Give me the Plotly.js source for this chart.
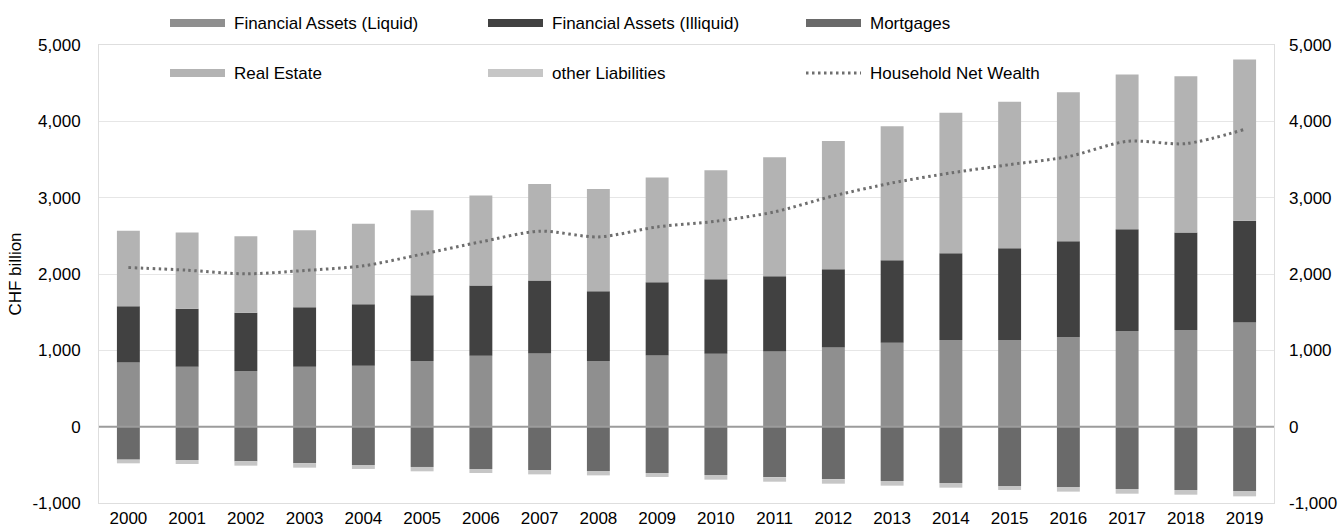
<!DOCTYPE html>
<html>
<head>
<meta charset="utf-8">
<script src="https://cdn.plot.ly/plotly-3.0.1.min.js"></script>
<style>html,body{margin:0;padding:0;background:#fff;}#chart{width:1341px;height:531px;}</style>
</head>
<body>
<div id="chart"></div>
<script>
const years = ["2000","2001","2002","2003","2004","2005","2006","2007","2008","2009","2010","2011","2012","2013","2014","2015","2016","2017","2018","2019"];
const liquid = [842,785,728,785,798,859,929,960,859,933,955,986,1038,1099,1134,1134,1173,1252,1265,1365];
const illiquid = [737,759,764,781,807,864,921,955,916,960,977,986,1025,1082,1139,1204,1257,1335,1278,1331];
const mortgages = [-432,-437,-454,-480,-502,-528,-555,-568,-581,-607,-633,-664,-690,-712,-738,-777,-790,-817,-830,-843];
const realEstate = [986,999,1003,1008,1052,1112,1177,1265,1339,1370,1427,1557,1680,1754,1840,1919,1950,2028,2046,2115];
const otherLiab = [-48,-52,-57,-57,-52,-57,-52,-57,-57,-52,-61,-57,-57,-61,-61,-52,-61,-61,-61,-70];
const netWealth = [2085,2050,2002,2046,2107,2260,2421,2561,2486,2617,2691,2814,3023,3193,3324,3433,3538,3738,3708,3895];
const tickVals = [-1000,0,1000,2000,3000,4000,5000];
const tickText = ["-1,000","0","1,000","2,000","3,000","4,000","5,000"];
const seriesNames = ["Financial Assets (Liquid)","Financial Assets (Illiquid)","Mortgages","Real Estate","other Liabilities","Household Net Wealth"];
const colors = ["#8f8f8f","#414141","#6a6a6a","#b3b3b3","#c6c6c6","#6e6e6e"];

const W = 1341, H = 531, L = 99, R = 1274, T = 45, B = 503;
const px = x => (x - L) / (R - L);
const py = y => (B - y) / (B - T);
const FONT = "Liberation Sans, Arial, sans-serif";

const barVals = [liquid, illiquid, mortgages, realEstate, otherLiab];
const traces = barVals.map((v, i) => ({
  type: "bar", x: years, y: v, name: seriesNames[i],
  marker: {color: colors[i], line: {width: 0}}, showlegend: false, hoverinfo: "skip"
}));
traces.push({
  type: "scatter", mode: "lines", x: years, y: netWealth, name: seriesNames[5], yaxis: "y2",
  line: {color: colors[5], width: 3, dash: "2.5px,3.5px", shape: "spline", smoothing: 0.8},
  showlegend: false, hoverinfo: "skip"
});

const shapes = [];
const annotations = [];
const colX = [170, 488, 806];
const rowY = [23, 73];
seriesNames.forEach((name, i) => {
  const c = i % 3, r = Math.floor(i / 3);
  const x0 = colX[c], x1 = colX[c] + 55, yc = rowY[r];
  if (i < 5) {
    shapes.push({type: "rect", xref: "paper", yref: "paper", x0: px(x0), x1: px(x1), y0: py(yc + 4), y1: py(yc - 4),
      fillcolor: colors[i], line: {width: 0}, layer: "above"});
  } else {
    shapes.push({type: "line", xref: "paper", yref: "paper", x0: px(x0), x1: px(x1), y0: py(yc), y1: py(yc),
      line: {color: colors[i], width: 3, dash: "2.5px,3.5px"}, layer: "above"});
  }
  annotations.push({xref: "paper", yref: "paper", x: px(x1 + 7), y: py(yc), xanchor: "left", yanchor: "middle",
    text: name, showarrow: false, font: {family: FONT, size: 17, color: "#000"}});
});
shapes.push({type: "line", xref: "paper", yref: "y", x0: 0, x1: 1, y0: 0, y1: 0,
  line: {color: "#9c9c9c", width: 2}, layer: "above"});

const layout = {
  width: W, height: H,
  margin: {l: L, r: W - R, t: T, b: H - B, pad: 0},
  paper_bgcolor: "#fff", plot_bgcolor: "#fff",
  barmode: "relative", bargap: 0.61,
  font: {family: FONT, size: 17, color: "#000"},
  xaxis: {type: "category", showgrid: false, zeroline: false, showline: true, mirror: true,
    linecolor: "#dedede", linewidth: 1, ticks: "", ticklabelstandoff: 0, automargin: false,
    tickfont: {family: FONT, size: 17, color: "#000"}},
  yaxis: {range: [-1000, 5000], tickvals: tickVals, ticktext: tickText, showgrid: true,
    gridcolor: "#e6e6e6", gridwidth: 1, zeroline: false, showline: true, mirror: true,
    linecolor: "#dedede", linewidth: 1, ticks: "", ticklabelstandoff: 14, automargin: false,
    tickfont: {family: FONT, size: 17, color: "#000"},
    title: {text: "CHF billion", standoff: 6, font: {family: FONT, size: 17, color: "#000"}}},
  yaxis2: {range: [-1000, 5000], tickvals: tickVals, ticktext: tickText, overlaying: "y", side: "right",
    showgrid: false, zeroline: false, showline: false, ticks: "", ticklabelstandoff: 14, automargin: false,
    tickfont: {family: FONT, size: 17, color: "#000"}},
  shapes: shapes,
  annotations: annotations,
  showlegend: false
};

Plotly.newPlot("chart", traces, layout, {staticPlot: true, displayModeBar: false});
</script>
</body>
</html>
